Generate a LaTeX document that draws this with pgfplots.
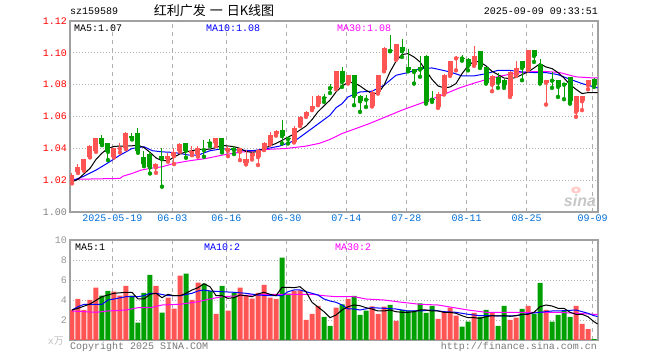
\documentclass[border=0pt]{standalone}
\usepackage{fontspec}
\newfontfamily\mono{Liberation Mono}
\newfontfamily\cjk{Noto Sans CJK SC}
\newfontfamily\sinafont{Liberation Sans}
\usepackage{pgfplots}
\usepackage{pgfplotstable}
\pgfplotsset{compat=1.18}
\definecolor{cred}{RGB}{255,84,84}
\definecolor{cgreen}{RGB}{0,160,0}
\definecolor{cblue}{RGB}{0,0,255}
\definecolor{cmag}{RGB}{255,0,255}
\definecolor{dateblue}{RGB}{0,110,215}
\definecolor{gridc}{RGB}{175,175,175}
\definecolor{framec}{RGB}{160,160,160}
\definecolor{labgray}{RGB}{150,150,150}
\newcommand{\tf}{\mono\fontsize{10bp}{10bp}\selectfont}

\pgfplotstableread{
i bot top lo hi
0 1.0201 1.0232 1.0180 1.0242
1 1.0253 1.0284 1.0245 1.0299
2 1.0263 1.0330 1.0259 1.0336
3 1.0347 1.0414 1.0343 1.0418
4 1.0385 1.0462 1.0378 1.0466
7 1.0347 1.0399 1.0343 1.0405
8 1.0397 1.0404 1.0374 1.0431
9 1.0399 1.0497 1.0395 1.0504
14 1.0280 1.0301 1.0246 1.0309
16 1.0332 1.0351 1.0316 1.0372
17 1.0351 1.0378 1.0301 1.0399
18 1.0385 1.0426 1.0378 1.0435
20 1.0368 1.0385 1.0357 1.0414
21 1.0364 1.0399 1.0347 1.0414
24 1.0431 1.0466 1.0414 1.0466
26 1.0385 1.0405 1.0351 1.0414
28 1.0378 1.0399 1.0326 1.0399
29 1.0305 1.0330 1.0299 1.0389
30 1.0351 1.0368 1.0330 1.0378
31 1.0345 1.0390 1.0295 1.0395
32 1.0393 1.0433 1.0389 1.0440
33 1.0426 1.0483 1.0424 1.0504
34 1.0487 1.0507 1.0480 1.0514
37 1.0441 1.0525 1.0437 1.0539
38 1.0545 1.0598 1.0540 1.0602
39 1.0602 1.0629 1.0598 1.0635
40 1.0644 1.0665 1.0640 1.0727
41 1.0677 1.0727 1.0671 1.0733
44 1.0778 1.0884 1.0771 1.0886
46 1.0813 1.0859 1.0807 1.0863
50 1.0667 1.0754 1.0663 1.0765
51 1.0754 1.0859 1.0744 1.0863
52 1.0890 1.1030 1.0884 1.1037
54 1.0963 1.1058 1.0957 1.1058
61 1.0660 1.0744 1.0654 1.0754
62 1.0744 1.0863 1.0738 1.0869
63 1.0859 1.0947 1.0855 1.0950
64 1.0965 1.0972 1.0890 1.0982
67 1.0926 1.0980 1.0918 1.1040
70 1.0800 1.0855 1.0759 1.0859
73 1.0729 1.0880 1.0723 1.0884
74 1.0859 1.0905 1.0855 1.0947
76 1.0897 1.1016 1.0890 1.1016
79 1.0813 1.0828 1.0675 1.0828
84 1.0629 1.0729 1.0598 1.0729
85 1.0696 1.0729 1.0640 1.0729
86 1.0796 1.0828 1.0771 1.0828
}\redc

\pgfplotstableread{
i bot top lo hi
5 1.0426 1.0462 1.0420 1.0483
6 1.0378 1.0431 1.0326 1.0435
10 1.0464 1.0477 1.0456 1.0497
11 1.0385 1.0497 1.0372 1.0529
12 1.0301 1.0347 1.0288 1.0382
13 1.0280 1.0364 1.0242 1.0385
15 1.0334 1.0351 1.0159 1.0405
19 1.0385 1.0435 1.0341 1.0435
22 1.0388 1.0395 1.0347 1.0452
23 1.0431 1.0437 1.0414 1.0456
25 1.0389 1.0462 1.0374 1.0462
27 1.0389 1.0405 1.0364 1.0414
35 1.0477 1.0514 1.0431 1.0577
36 1.0458 1.0464 1.0431 1.0477
42 1.0715 1.0721 1.0692 1.0744
43 1.0778 1.0784 1.0748 1.0803
45 1.0817 1.0884 1.0786 1.0911
47 1.0729 1.0859 1.0671 1.0859
48 1.0696 1.0729 1.0629 1.0733
49 1.0705 1.0711 1.0660 1.0734
53 1.1012 1.1018 1.1010 1.1110
55 1.1010 1.1037 1.0974 1.1085
56 1.0890 1.0911 1.0884 1.1023
57 1.0880 1.0897 1.0807 1.0901
58 1.0895 1.0911 1.0850 1.0980
59 1.0688 1.0980 1.0681 1.0984
60 1.0705 1.0711 1.0692 1.0759
65 1.0964 1.0970 1.0951 1.0984
66 1.0918 1.0959 1.0890 1.0968
68 1.0911 1.1010 1.0905 1.1012
69 1.0813 1.0911 1.0807 1.0911
71 1.0813 1.0849 1.0780 1.0874
72 1.0796 1.0828 1.0780 1.0834
75 1.0905 1.0947 1.0828 1.0947
77 1.0980 1.1016 1.0943 1.1016
78 1.0813 1.0932 1.0807 1.0963
80 1.0825 1.0830 1.0780 1.0880
81 1.0786 1.0828 1.0723 1.0828
82 1.0800 1.0813 1.0709 1.0813
83 1.0696 1.0849 1.0681 1.0849
87 1.0796 1.0834 1.0786 1.0842
}\greenc

\pgfplotstableread{
i v
0 3.0
1 4.1
2 3.0
3 4.0
4 5.23
7 4.83
8 4.43
9 5.4
14 5.4
16 4.23
17 3.13
18 6.43
20 4.0
21 5.73
24 2.6
26 2.93
28 5.23
29 4.43
30 4.13
31 4.7
32 5.5
33 4.23
34 4.1
37 4.9
38 4.97
39 2.0
40 2.6
41 3.4
44 3.23
46 4.1
50 3.37
51 2.6
52 3.33
54 1.9
61 2.1
62 2.83
63 3.23
64 2.43
67 2.7
70 2.77
73 2.0
74 2.23
76 3.4
79 3.0
84 3.4
85 1.6
86 1.1
}\redv

\pgfplotstableread{
i v
5 4.43
6 4.9
10 4.43
11 1.73
12 4.7
13 6.5
15 2.73
19 6.63
22 5.63
23 4.9
25 5.4
27 4.7
35 8.23
36 4.63
42 2.3
43 1.4
45 3.57
47 4.4
48 2.5
49 2.93
53 3.5
55 3.0
56 2.93
57 2.93
58 3.67
59 2.7
60 3.4
65 1.33
66 1.83
68 2.3
69 3.0
71 1.4
72 3.4
75 3.1
77 2.6
78 5.7
80 1.83
81 2.5
82 2.9
83 2.3
87 0.1
}\greenv

\begin{document}
\begin{tikzpicture}
\useasboundingbox (0,0) rectangle (660bp,360bp);

\begin{axis}[
  at={(70bp,148bp)}, anchor=south west,
  scale only axis, width=528bp, height=191bp,
  xmin=-0.333, xmax=87.667, ymin=1.00, ymax=1.12,
  axis line style={framec, line width=1.4bp},
  major tick length=0pt,
  ytick={1.00,1.02,1.04,1.06,1.08,1.10,1.12},
  yticklabels={\textcolor{gray}{1.00},\textcolor{red}{1.02},\textcolor{red}{1.04},\textcolor{red}{1.06},\textcolor{red}{1.08},\textcolor{red}{1.10},\textcolor{red}{1.12}},
  yticklabel style={font=\tf, inner sep=0pt, anchor=east, xshift=-3bp},
  xtick={6.75,16.75,25.75,35.75,45.75,55.75,65.75,75.75,86.75},
  xticklabels={2025-05-19,06-03,06-16,06-30,07-14,07-28,08-11,08-25,09-09},
  xticklabel style={font=\tf, text=dateblue, inner sep=0pt, anchor=north, yshift=-3bp},
  xmajorgrids, ymajorgrids,
  x grid style={gridc, line width=0.8bp, dash pattern=on 4bp off 4bp},
  y grid style={gridc, line width=0.8bp, dash pattern=on 1bp off 2bp},
]
% MA30
\addplot[cmag, line width=1bp, forget plot] coordinates {
(0,1.0205)(8,1.0211)(8.5,1.0225)(10,1.0242)(11.5,1.0263)(13,1.0274)(15,1.0284)(17,1.0305)(19.6,1.0322)(22.3,1.0336)(25,1.0357)(28,1.0376)(30,1.0382)(32.3,1.0393)(35.7,1.0399)(39,1.0414)(41.2,1.0431)(43,1.0456)(45,1.0493)(47,1.0520)(49.6,1.0556)(52.3,1.0598)(55,1.0640)(58,1.0681)(60,1.0710)(62.3,1.0744)(64.6,1.0780)(67.3,1.0813)(70,1.0842)(73,1.0866)(75.8,1.0880)(78.6,1.0884)(81.3,1.0876)(84,1.0849)(87,1.0842)(87.6,1.0842)};
% MA10
\addplot[cblue, line width=1bp, forget plot] coordinates {
(0,1.0196)(2,1.0225)(4,1.0263)(6,1.0309)(8,1.0357)(10,1.0399)(12,1.0410)(13.4,1.0385)(15,1.0378)(17,1.0374)(19.6,1.0357)(21,1.0357)(23,1.0385)(25,1.0397)(28,1.0389)(30,1.0385)(32,1.0395)(34.6,1.0414)(37.3,1.0451)(40,1.0525)(43,1.0608)(44,1.0655)(45,1.0680)(46,1.0723)(48,1.0754)(50,1.0759)(52,1.0796)(54,1.0859)(56,1.0876)(58,1.0901)(60,1.0905)(61,1.0897)(63,1.0880)(65,1.0855)(67,1.0855)(69,1.0869)(71,1.0890)(73,1.0890)(74,1.0884)(75,1.0880)(77,1.0876)(79,1.0876)(81,1.0863)(83,1.0834)(85,1.0807)(87,1.0786)(87.6,1.0780)};
% MA5
\addplot[black, line width=1bp, forget plot] coordinates {
(0,1.0190)(1,1.0205)(2,1.0240)(3,1.0274)(4,1.0330)(5,1.0370)(6,1.0400)(7,1.0412)(8,1.0414)(9,1.0414)(10,1.0416)(11,1.0420)(12,1.0405)(13,1.0375)(14,1.0340)(15,1.0322)(16,1.0322)(17,1.0345)(18,1.0365)(19,1.0378)(20,1.0385)(21,1.0393)(22,1.0393)(23,1.0395)(24,1.0405)(25,1.0418)(26,1.0415)(27,1.0410)(28,1.0400)(29,1.0380)(30,1.0375)(31,1.0380)(32,1.0400)(33,1.0415)(34,1.0431)(35,1.0450)(36,1.0470)(37,1.0490)(38,1.0515)(39,1.0540)(40,1.0580)(41,1.0630)(42,1.0667)(43,1.0703)(44,1.0754)(45,1.0790)(46,1.0815)(47,1.0812)(48,1.0792)(49,1.0765)(50,1.0744)(51,1.0745)(52,1.0796)(53,1.0880)(54,1.0947)(55,1.0989)(56,1.0995)(57,1.0974)(58,1.0943)(59,1.0888)(60,1.0833)(61,1.0792)(62,1.0780)(63,1.0785)(64,1.0807)(65,1.0869)(66,1.0918)(67,1.0947)(68,1.0943)(69,1.0918)(70,1.0884)(71,1.0863)(72,1.0842)(73,1.0838)(74,1.0845)(75,1.0863)(76,1.0880)(77,1.0905)(78,1.0932)(79,1.0911)(80,1.0901)(81,1.0876)(82,1.0842)(83,1.0800)(84,1.0771)(85,1.0744)(86,1.0750)(87,1.0750)(87.6,1.0750)};
% candles red
\addplot[cred, only marks, mark=none, forget plot,
  error bars/.cd, y dir=plus, y explicit, error mark=none,
  error bar style={draw=cred, line width=1bp}]
  table[x=i, y=lo, y error plus expr=\thisrow{hi}-\thisrow{lo}] {\redc};
\addplot[cred, only marks, mark=none, forget plot,
  error bars/.cd, y dir=plus, y explicit, error mark=none,
  error bar style={draw=cred, line width=5bp}]
  table[x=i, y=bot, y error plus expr=\thisrow{top}-\thisrow{bot}] {\redc};
% candles green
\addplot[cgreen, only marks, mark=none, forget plot,
  error bars/.cd, y dir=plus, y explicit, error mark=none,
  error bar style={draw=cgreen, line width=1bp}]
  table[x=i, y=lo, y error plus expr=\thisrow{hi}-\thisrow{lo}] {\greenc};
\addplot[cgreen, only marks, mark=none, forget plot,
  error bars/.cd, y dir=plus, y explicit, error mark=none,
  error bar style={draw=cgreen, line width=5bp}]
  table[x=i, y=bot, y error plus expr=\thisrow{top}-\thisrow{bot}] {\greenc};
\end{axis}

\begin{axis}[
  at={(70bp,20bp)}, anchor=south west,
  scale only axis, width=528bp, height=100bp,
  xmin=-0.333, xmax=87.667, ymin=0, ymax=10,
  axis line style={framec, line width=1.4bp},
  major tick length=0pt,
  ytick={2,4,6,8,10},
  yticklabels={2,4,6,8,10},
  yticklabel style={font=\tf, text=labgray, inner sep=0pt, anchor=east, xshift=-3bp},
  xtick={6.75,16.75,25.75,35.75,45.75,55.75,65.75,75.75,86.75},
  xticklabels={},
  xmajorgrids, ymajorgrids,
  x grid style={gridc, line width=0.8bp, dash pattern=on 4bp off 4bp},
  y grid style={gridc, line width=0.8bp, dash pattern=on 1bp off 2bp},
]
\addplot[ybar, bar width=5bp, bar shift=0pt, fill=cred, draw=none, forget plot] table[x=i, y=v] {\redv};
\addplot[ybar, bar width=5bp, bar shift=0pt, fill=cgreen, draw=none, forget plot] table[x=i, y=v] {\greenv};
% vol MA30
\addplot[cmag, line width=1bp, forget plot] coordinates {
(0,2.9)(4,2.77)(6,2.9)(9,3.0)(11,3.23)(13,3.23)(15,3.5)(18,3.57)(21,3.83)(23,4.1)(25,4.33)(28,4.43)(30,4.5)(33,4.57)(36,4.57)(40,4.57)(42,4.43)(44,4.33)(47,4.33)(49,4.1)(52,4.0)(55,3.77)(58,3.57)(61,3.5)(63,3.3)(66,3.0)(69,2.77)(72,2.77)(75,2.77)(78,2.77)(81,2.77)(84,2.67)(87,2.57)(87.6,2.55)};
% vol MA10
\addplot[cblue, line width=1bp, forget plot] coordinates {
(0,3.0)(1,3.33)(2,3.57)(5,3.57)(6,4.0)(7,4.1)(9,4.33)(11,4.33)(12,4.43)(13,4.67)(14,4.67)(16,4.43)(18,4.43)(20,4.67)(21,4.9)(22,5.0)(23,4.9)(25,4.83)(27,4.77)(29,4.67)(31,4.5)(33,4.43)(35,4.43)(36,4.83)(37,5.0)(38,5.0)(39,4.83)(40,4.67)(41,4.5)(42,4.1)(43,3.9)(44,3.77)(45,3.5)(46,3.1)(47,3.1)(48,3.0)(50,3.23)(52,3.17)(54,3.1)(56,2.9)(58,2.9)(60,3.0)(62,2.83)(64,2.77)(66,2.57)(68,2.43)(70,2.43)(72,2.4)(74,2.43)(76,2.63)(78,2.77)(80,2.9)(82,2.93)(84,3.0)(86,2.67)(87,2.43)(87.6,2.35)};
% vol MA5
\addplot[black, line width=1bp, forget plot] coordinates {
(0,3.0)(1,3.17)(3,3.6)(5,4.33)(7,4.67)(9,4.77)(10,4.77)(11,4.1)(12,4.1)(13,4.57)(14,4.67)(15,4.23)(16,4.57)(17,4.43)(18,4.43)(19,4.67)(20,5.0)(21,5.23)(22,5.63)(23,5.33)(24,4.43)(25,4.43)(26,4.17)(27,4.23)(28,4.5)(29,4.43)(30,4.33)(31,4.6)(32,4.77)(33,4.57)(34,4.43)(35,5.27)(36,5.27)(37,5.23)(38,5.33)(39,4.83)(40,3.77)(41,3.3)(42,2.83)(43,2.23)(44,2.5)(45,3.0)(46,3.33)(47,3.5)(48,3.43)(49,3.23)(50,3.1)(51,2.9)(52,2.9)(53,3.0)(54,2.83)(55,2.77)(56,2.77)(57,2.83)(58,3.0)(59,3.0)(60,2.9)(61,2.9)(62,2.77)(63,2.77)(64,2.67)(65,2.43)(66,2.23)(67,2.23)(68,2.17)(69,2.33)(70,2.43)(71,2.4)(72,2.43)(73,2.37)(74,2.43)(75,2.57)(76,2.57)(77,2.77)(78,3.33)(79,3.5)(80,3.4)(81,3.17)(82,3.17)(83,2.77)(84,2.57)(85,2.57)(86,2.33)(87,1.83)(87.6,1.6)};
\end{axis}

% header
\node[anchor=west, font=\tf, inner sep=0pt] at (70bp,349bp) {sz159589};
\node[font=\cjk\fontsize{13bp}{13bp}\selectfont, inner sep=0pt] at (214bp,349bp) {红利广发\hspace{4bp}一\hspace{4bp}日K线图};
\node[anchor=east, font=\tf, inner sep=0pt] at (598bp,349bp) {2025-09-09 09:33:51};
% main legend
\node[anchor=west, font=\tf, inner sep=0pt, text=black] at (74bp,332bp) {MA5:1.07};
\node[anchor=west, font=\tf, inner sep=0pt, text=cblue] at (206bp,332bp) {MA10:1.08};
\node[anchor=west, font=\tf, inner sep=0pt, text=cmag] at (337bp,332bp) {MA30:1.08};
% volume legend
\node[anchor=west, font=\tf, inner sep=0pt, text=black] at (75bp,113bp) {MA5:1};
\node[anchor=west, font=\tf, inner sep=0pt, text=cblue] at (204bp,113bp) {MA10:2};
\node[anchor=west, font=\tf, inner sep=0pt, text=cmag] at (335bp,113bp) {MA30:2};
% footer
\node[anchor=west, font=\tf, inner sep=0pt, text=labgray!80!black] at (70bp,13bp) {Copyright 2025 SINA.COM};
\node[anchor=east, font=\tf, inner sep=0pt, text=labgray!80!black] at (597bp,13bp) {http://finance.sina.com.cn};
\node[anchor=east, inner sep=0pt, text=labgray!60] at (64bp,19bp) {{\tf x}{\cjk\fontsize{10bp}{10bp}\selectfont 万}};
% watermark
\fill[cred!30] (576bp,170bp) ellipse (5bp and 3.5bp);
\fill[white] (576bp,170bp) circle (1.6bp);
\node[font=\sinafont\bfseries\itshape\fontsize{16bp}{16bp}\selectfont, text=black!22, inner sep=0pt] at (580bp,159bp) {sina};
\end{tikzpicture}
\end{document}
